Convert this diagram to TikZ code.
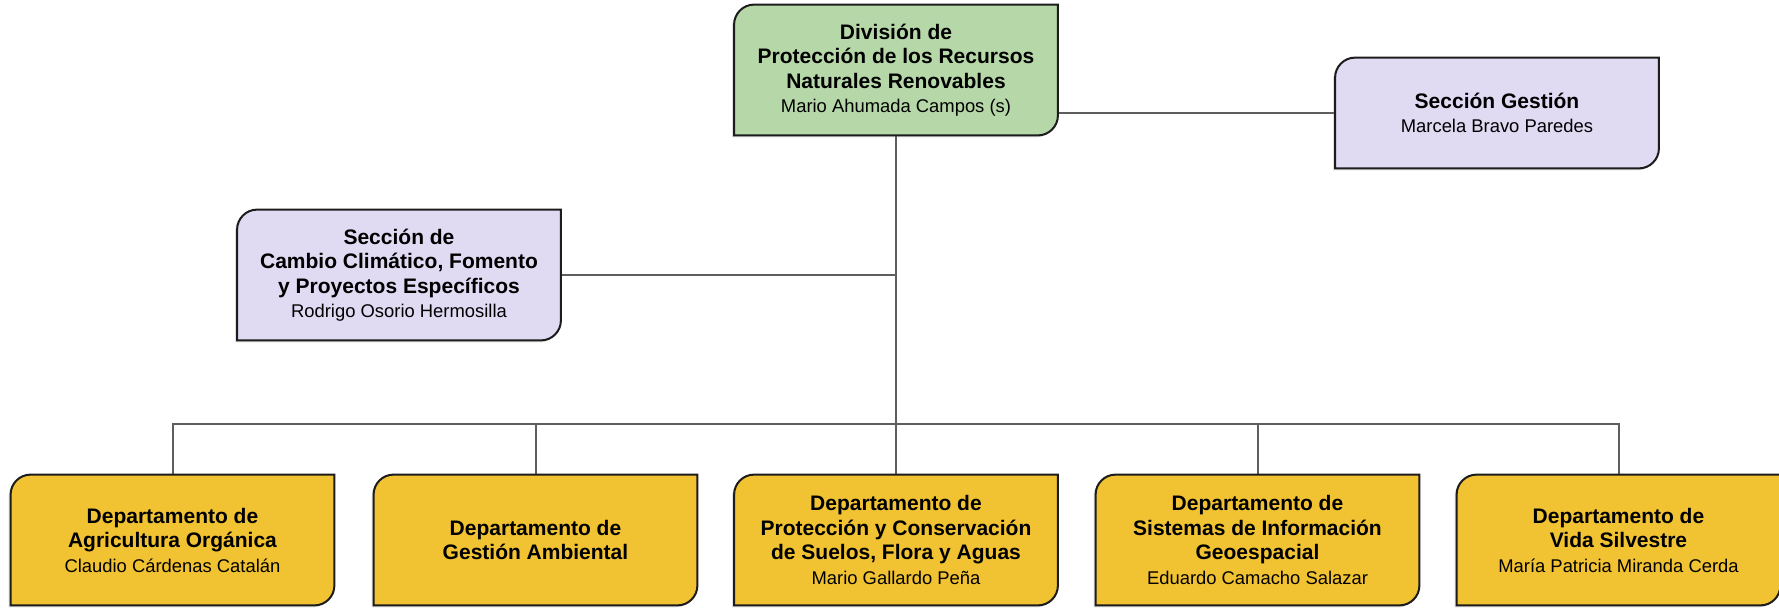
\documentclass[tikz,border=0pt]{standalone}
\usepackage{fontspec}
\setmainfont{Liberation Sans}
\usepackage{tikz}
\usetikzlibrary{positioning,backgrounds,shadows}
\definecolor{verde}{HTML}{B6D7A8}
\definecolor{lila}{HTML}{E0DAF2}
\definecolor{oro}{HTML}{F1C232}
\definecolor{borde}{HTML}{1C1C1C}
\definecolor{gris}{HTML}{5E5E5E}
\newcommand{\persona}[1]{{\fontsize{9.2}{12.25}\selectfont #1}}

\begin{document}
\begin{tikzpicture}
[x=0.5pt, y=-0.5pt,
Caja/.style={rectangle, inner sep=0pt, minimum width=161.5pt, minimum height=65pt, align=center, text=black, font=\fontsize{10.5}{12.25}\selectfont\bfseries},
CajaBaja/.style={Caja, minimum height=55pt},
Marco/.style={draw=borde, line width=1pt, drop shadow={opacity=0.25, shadow xshift=-1pt, shadow yshift=-1pt}},
Linea/.style={draw=gris, line width=1pt}]

\useasboundingbox (0,0) rectangle (1779,607);

% Division
\node[Caja] (division) at (896,70) {División de\\Protección de los Recursos\\Naturales Renovables\\\mdseries\persona{Mario Ahumada Campos (s)}};

% Secciones
\node[CajaBaja] (gestion) at (1497,113) {Sección Gestión\\\mdseries\persona{Marcela Bravo Paredes}};
\node[Caja] (cambio) at (399,275) {Sección de\\Cambio Climático, Fomento\\y Proyectos Específicos\\\mdseries\persona{Rodrigo Osorio Hermosilla}};

% Departamentos
\node[Caja] (agricultura) at (172.5,540) {Departamento de\\Agricultura Orgánica\\\mdseries\persona{Claudio Cárdenas Catalán}};
\node[Caja] (ambiental) at (535.5,540) {Departamento de\\Gestión Ambiental};
\node[Caja] (suelos) at (896,540) {Departamento de\\Protección y Conservación\\de Suelos, Flora y Aguas\\\mdseries\persona{Mario Gallardo Peña}};
\node[Caja] (sig) at (1257.5,540) {Departamento de\\Sistemas de Información\\Geoespacial\\\mdseries\persona{Eduardo Camacho Salazar}};
\node[Caja] (vida) at (1618.5,540) {Departamento de\\Vida Silvestre\\\mdseries\persona{María Patricia Miranda Cerda}};

\coordinate (bus) at (896,424);

\begin{scope}[on background layer]
% lineas
\draw[Linea] (division.south) -- (suelos.north);
\draw[Linea] (agricultura.north) |- (bus) -| (vida.north);
\draw[Linea] (ambiental.north) -- (ambiental.north |- bus);
\draw[Linea] (sig.north) -- (sig.north |- bus);
\draw[Linea] (cambio.east) -- (cambio.east -| division.south);
\draw[Linea] (gestion.west) -- (gestion.west -| division.east);

% marcos
\foreach \n/\c in {division/verde, gestion/lila, cambio/lila, agricultura/oro, ambiental/oro, suelos/oro, sig/oro, vida/oro}
  \draw[Marco, fill=\c] ([yshift=-10pt]\n.north west) arc[start angle=180, end angle=90, radius=10pt] -- (\n.north east) -- ([yshift=10pt]\n.south east) arc[start angle=0, end angle=-90, radius=10pt] -- (\n.south west) -- cycle;
\end{scope}

\end{tikzpicture}
\end{document}
